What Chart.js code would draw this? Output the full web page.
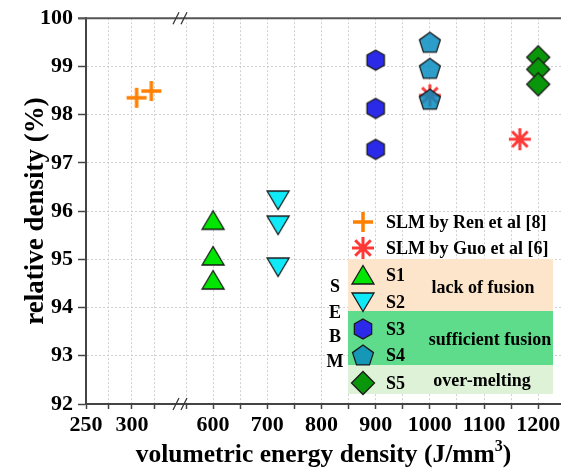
<!DOCTYPE html>
<html>
<head>
<meta charset="utf-8">
<script src="https://cdn.jsdelivr.net/npm/chart.js@4/dist/chart.umd.min.js"></script>
<style>
  body { margin: 0; background: #fff; }
  canvas { display: block; }
</style>
</head>
<body>
<canvas id="chart" width="561" height="472"></canvas>
<script>
// data
const renX = [305, 321];
const renY = [98.35, 98.49];
const guoX = [1000, 1166];
const guoY = [98.4, 97.49];
const s1X = [600, 600, 600];
const s1Y = [95.81, 95.07, 94.57];
const s2X = [720, 720, 720];
const s2Y = [96.23, 95.71, 94.84];
const s3X = [900, 900, 900];
const s3Y = [99.13, 98.13, 97.28];
const s4X = [1000, 1000, 1000];
const s4Y = [99.5, 98.96, 98.32];
const s5X = [1200, 1200, 1200];
const s5Y = [99.19, 98.94, 98.63];

// broken x axis: two pieces
const leftTicks = [250, 275, 300, 325];
const rightTicks = [550, 600, 650, 700, 750, 800, 850, 900, 950, 1000, 1050, 1100, 1150, 1200];

const FONT = "'Liberation Serif', 'Times New Roman', serif";
Chart.defaults.font.family = FONT;
Chart.defaults.font.weight = "bold";
Chart.defaults.color = "#000";

const pts = (xs, ys) => xs.map((x, i) => ({ x: x, y: ys[i] }));

// marker pictures, used both for points and legend
function marker(draw) {
    const c = document.createElement("canvas");
    c.width = 28;
    c.height = 28;
    const g = c.getContext("2d");
    g.translate(14, 14);
    draw(g);
    return c;
}
function shape(pointsArr, fill) {
    return (g) => {
        g.beginPath();
        pointsArr.forEach((p, i) => (i ? g.lineTo(p[0], p[1]) : g.moveTo(p[0], p[1])));
        g.closePath();
        g.fillStyle = fill;
        g.fill();
        g.strokeStyle = "#1a1a1a";
        g.lineWidth = 1.3;
        g.stroke();
    };
}
function ngon(n, r, dy) {
    const out = [];
    for (let k = 0; k < n; k++) {
        const a = -Math.PI / 2 + (k * 2 * Math.PI) / n;
        out.push([r * Math.cos(a), r * Math.sin(a) + dy]);
    }
    return out;
}

const mPlus = marker((g) => {
    g.strokeStyle = "#ff8000";
    g.lineWidth = 3.5;
    g.beginPath();
    g.moveTo(-10, 0); g.lineTo(10, 0);
    g.moveTo(0, -10); g.lineTo(0, 10);
    g.stroke();
});
const mStar = marker((g) => {
    g.strokeStyle = "#ff3838";
    g.lineWidth = 3;
    g.beginPath();
    for (let k = 0; k < 4; k++) {
        const a = (k * Math.PI) / 4;
        g.moveTo(-11 * Math.cos(a), -11 * Math.sin(a));
        g.lineTo(11 * Math.cos(a), 11 * Math.sin(a));
    }
    g.stroke();
});
const mUp = marker(shape([[0, -9.5], [11, 9], [-11, 9]], "#00e600"));
const mDown = marker(shape([[0, 9.5], [11, -9], [-11, -9]], "#10eaf8"));
const mHex = marker(shape(ngon(6, 10, 0), "#2a2ae8"));
const mPent = marker(shape(ngon(5, 11, 1), "rgba(8,140,192,0.85)"));
const mDia = marker(shape([[0, -11.5], [11.5, 0], [0, 11.5], [-11.5, 0]], "#0a960a"));

const decor = {
    id: "decor",
    afterDraw(chart) {
        const ctx = chart.ctx;
        const a = chart.chartArea;
        const xb = chart.scales.xL.right;
        ctx.save();

        // top frame line
        ctx.strokeStyle = "#555";
        ctx.lineWidth = 2;
        ctx.beginPath();
        ctx.moveTo(a.left - 8, a.top);
        ctx.lineTo(a.right, a.top);
        ctx.stroke();

        // break marks
        ctx.strokeStyle = "#333";
        ctx.lineWidth = 1.2;
        [a.top, a.bottom].forEach((y) => {
            [xb - 10, xb - 2].forEach((cx) => {
                ctx.beginPath();
                ctx.moveTo(cx - 3, y + 6);
                ctx.lineTo(cx + 3, y - 6);
                ctx.stroke();
            });
        });

        // x axis title with superscript
        const t1 = "volumetric energy density (J/mm";
        const f1 = "bold 25.5px " + FONT;
        const f2 = "bold 16px " + FONT;
        ctx.fillStyle = "#000";
        ctx.textBaseline = "alphabetic";
        ctx.font = f1;
        const w1 = ctx.measureText(t1).width;
        const w3 = ctx.measureText(")").width;
        ctx.font = f2;
        const w2 = ctx.measureText("3").width;
        let x = (a.left + a.right) / 2 - (w1 + w2 + w3) / 2;
        const base = 462;
        ctx.font = f1;
        ctx.textAlign = "left";
        ctx.fillText(t1, x, base);
        ctx.font = f2;
        ctx.fillText("3", x + w1, base - 11);
        ctx.font = f1;
        ctx.fillText(")", x + w1 + w2, base);

        // legend backgrounds
        ctx.fillStyle = "#fde5cc";
        ctx.fillRect(348, 259, 205, 52);
        ctx.fillStyle = "#5edc8c";
        ctx.fillRect(348, 311, 205, 54);
        ctx.fillStyle = "#ddf2d6";
        ctx.fillRect(348, 365, 205, 29);

        // legend entries
        const rows = [
            [mPlus, "SLM by Ren et al [8]", 222],
            [mStar, "SLM by Guo et al [6]", 248],
            [mUp, "S1", 275],
            [mDown, "S2", 302],
            [mHex, "S3", 329],
            [mPent, "S4", 355],
            [mDia, "S5", 383],
        ];
        ctx.font = "bold 18px " + FONT;
        ctx.textBaseline = "middle";
        ctx.fillStyle = "#000";
        rows.forEach((r) => {
            ctx.drawImage(r[0], 363 - 14, r[2] - 14);
            ctx.fillText(r[1], 386, r[2] + 1);
        });
        ctx.textAlign = "center";
        ctx.fillText("lack of fusion", 483, 288);
        ctx.fillText("sufficient fusion", 490, 340);
        ctx.fillText("over-melting", 482, 381);
        [["S", 287], ["E", 313], ["B", 337], ["M", 362]].forEach((s) => {
            ctx.fillText(s[0], 335, s[1]);
        });
        ctx.restore();
    },
};

const gridX = {
    color: "#cfcfcf",
    lineWidth: 1,
    tickColor: "#444",
    tickLength: 5,
    tickWidth: 1.5,
};
const tickFont = { size: 22, weight: "bold" };
const fitX = (s) => {
    s.height = 68;
    s.paddingLeft = 0;
    s.paddingRight = 0;
};

const config = {
    type: "scatter",
    data: {
        datasets: [
            { label: "SLM by Ren et al [8]", data: pts(renX, renY), xAxisID: "xL", pointStyle: mPlus },
            { label: "SLM by Guo et al [6]", data: pts(guoX, guoY), xAxisID: "xR", pointStyle: mStar, order: 1 },
            { label: "S1", data: pts(s1X, s1Y), xAxisID: "xR", pointStyle: mUp },
            { label: "S2", data: pts(s2X, s2Y), xAxisID: "xR", pointStyle: mDown },
            { label: "S3", data: pts(s3X, s3Y), xAxisID: "xR", pointStyle: mHex },
            { label: "S4", data: pts(s4X, s4Y), xAxisID: "xR", pointStyle: mPent },
            { label: "S5", data: pts(s5X, s5Y), xAxisID: "xR", pointStyle: mDia },
        ].map((d) => Object.assign({ pointRadius: 10, clip: false }, d)),
    },
    options: {
        responsive: false,
        animation: false,
        layout: { autoPadding: false, padding: { top: 18, right: 0, left: 0, bottom: 0 } },
        plugins: { legend: { display: false }, tooltip: { enabled: false } },
        scales: {
            xL: {
                type: "linear",
                position: "bottom",
                stack: "x",
                stackWeight: 100,
                min: 250,
                max: 358.7,
                afterBuildTicks: (s) => { s.ticks = leftTicks.map((v) => ({ value: v })); },
                afterFit: fitX,
                grid: gridX,
                border: { color: "#444", width: 2, dash: [2, 2] },
                ticks: {
                    font: tickFont,
                    padding: 3,
                    autoSkip: false,
                    maxRotation: 0,
                    callback: (v) => (v % 50 === 0 ? v : ""),
                },
            },
            xR: {
                type: "linear",
                position: "bottom",
                stack: "x",
                stackWeight: 375,
                min: 550,
                max: 1242,
                afterBuildTicks: (s) => { s.ticks = rightTicks.map((v) => ({ value: v })); },
                afterFit: fitX,
                grid: gridX,
                border: { color: "#444", width: 2, dash: [2, 2] },
                ticks: {
                    font: tickFont,
                    padding: 3,
                    autoSkip: false,
                    maxRotation: 0,
                    callback: (v) => (v % 100 === 0 ? v : ""),
                },
            },
            y: {
                min: 92,
                max: 100,
                afterFit: (s) => { s.width = 86; },
                grid: { color: "#cfcfcf", lineWidth: 1, tickColor: "#444", tickLength: 8, tickWidth: 1.5 },
                border: { color: "#444", width: 2, dash: [2, 2] },
                ticks: {
                    stepSize: 0.5,
                    font: tickFont,
                    padding: 5,
                    callback: (v) => (Number.isInteger(v) ? v : ""),
                },
                title: {
                    display: true,
                    text: "relative density (%)",
                    font: { size: 27, weight: "bold" },
                    padding: { top: 20, bottom: 0 },
                },
            },
        },
    },
    plugins: [decor],
};

const chartD = document.getElementById("chart");
const myChart = new Chart(chartD, config);
</script>
</body>
</html>
